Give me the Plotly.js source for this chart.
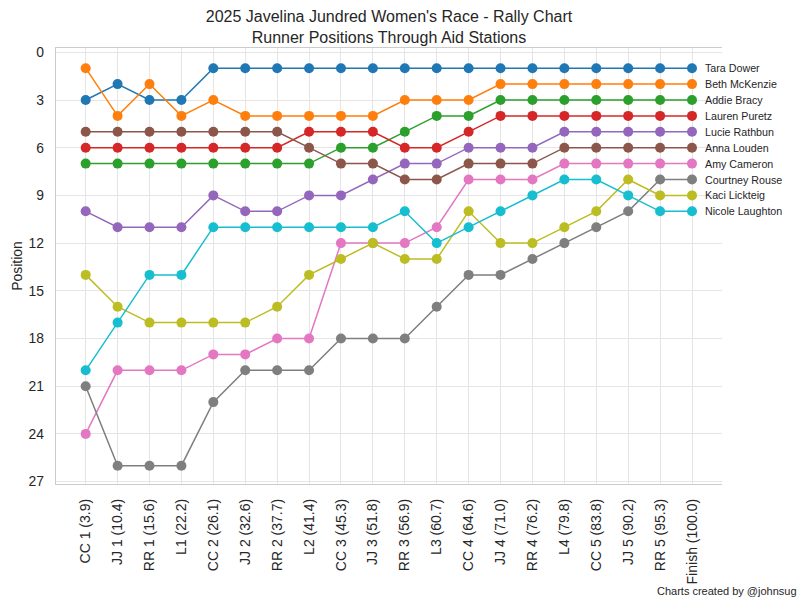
<!DOCTYPE html>
<html><head><meta charset="utf-8">
<script src="https://cdn.plot.ly/plotly-3.0.1.min.js"></script>
<style>html,body{margin:0;padding:0;background:#fff}#chart{width:804px;height:607px}</style>
</head><body><div id="chart"></div>
<script>
const stations = ["CC 1 (3.9)","JJ 1 (10.4)","RR 1 (15.6)","L1 (22.2)","CC 2 (26.1)","JJ 2 (32.6)","RR 2 (37.7)","L2 (41.4)","CC 3 (45.3)","JJ 3 (51.8)","RR 3 (56.9)","L3 (60.7)","CC 4 (64.6)","JJ 4 (71.0)","RR 4 (76.2)","L4 (79.8)","CC 5 (83.8)","JJ 5 (90.2)","RR 5 (95.3)","Finish (100.0)"];

const runners = ["Tara Dower","Beth McKenzie","Addie Bracy","Lauren Puretz","Lucie Rathbun","Anna Louden","Amy Cameron","Courtney Rouse","Kaci Lickteig","Nicole Laughton"];

const taraDower      = [3,2,3,3,1,1,1,1,1,1,1,1,1,1,1,1,1,1,1,1];
const bethMcKenzie   = [1,4,2,4,3,4,4,4,4,4,3,3,3,2,2,2,2,2,2,2];
const addieBracy     = [7,7,7,7,7,7,7,7,6,6,5,4,4,3,3,3,3,3,3,3];
const laurenPuretz   = [6,6,6,6,6,6,6,5,5,5,6,6,5,4,4,4,4,4,4,4];
const lucieRathbun   = [10,11,11,11,9,10,10,9,9,8,7,7,6,6,6,5,5,5,5,5];
const annaLouden     = [5,5,5,5,5,5,5,6,7,7,8,8,7,7,7,6,6,6,6,6];
const amyCameron     = [24,20,20,20,19,19,18,18,12,12,12,11,8,8,8,7,7,7,7,7];
const courtneyRouse  = [21,26,26,26,22,20,20,20,18,18,18,16,14,14,13,12,11,10,8,8];
const kaciLickteig   = [14,16,17,17,17,17,16,14,13,12,13,13,10,12,12,11,10,8,9,9];
const nicoleLaughton = [20,17,14,14,11,11,11,11,11,11,10,12,11,10,9,8,8,9,10,10];

const positions = [taraDower,bethMcKenzie,addieBracy,laurenPuretz,lucieRathbun,annaLouden,amyCameron,courtneyRouse,kaciLickteig,nicoleLaughton];
const colors = ["#1f77b4","#ff7f0e","#2ca02c","#d62728","#9467bd","#8c564b","#e377c2","#7f7f7f","#bcbd22","#17becf"];

const FONT = "Liberation Sans, Arial, sans-serif";
const TXT = "#262626";

const traces = runners.map((name, i) => ({
  type: "scatter",
  mode: "lines+markers",
  name: name,
  x: stations,
  y: positions[i],
  line: {color: colors[i], width: 1.5},
  marker: {color: colors[i], size: 10},
  showlegend: false
}));

const annotations = runners.map((name, i) => ({
  x: stations[stations.length - 1],
  y: positions[i][positions[i].length - 1],
  xref: "x", yref: "y",
  text: name,
  showarrow: false,
  xanchor: "left",
  yanchor: "middle",
  xshift: 11,
  font: {family: FONT, size: 10.7, color: TXT}
}));

annotations.push({
  xref: "paper", yref: "paper",
  x: 1.115, y: -0.245,
  xanchor: "right", yanchor: "middle",
  text: "Charts created by @johnsug",
  showarrow: false,
  font: {family: FONT, size: 11, color: TXT}
});

const layout = {
  width: 804, height: 607,
  margin: {l: 56, r: 82, t: 48, b: 123},
  paper_bgcolor: "#ffffff",
  plot_bgcolor: "#ffffff",
  title: {
    text: "2025 Javelina Jundred Women's Race - Rally Chart<br>Runner Positions Through Aid Stations",
    font: {family: FONT, size: 16, color: TXT},
    x: 0.5, xref: "paper", xanchor: "center",
    y: 0.963, yref: "container", yanchor: "middle"
  },
  xaxis: {
    type: "category",
    range: [-0.93, 19.94],
    tickangle: -90,
    tickfont: {family: FONT, size: 14, color: TXT},
    showgrid: true,
    gridcolor: "#e5e5e5",
    gridwidth: 1,
    showline: true,
    linecolor: "#cccccc",
    linewidth: 1.25,
    mirror: true,
    ticks: "",
    ticklabelstandoff: 8,
    zeroline: false,
    automargin: false
  },
  yaxis: {
    range: [27.15, -0.27],
    tick0: 0, dtick: 3,
    tickfont: {family: FONT, size: 13.9, color: TXT},
    showgrid: true,
    gridcolor: "#e5e5e5",
    gridwidth: 1,
    showline: true,
    linecolor: "#cccccc",
    linewidth: 1.25,
    mirror: false,
    ticks: "",
    ticklabelstandoff: 8,
    zeroline: false,
    automargin: false,
    title: {text: "Position", font: {family: FONT, size: 13.9, color: TXT}, standoff: 2}
  },
  annotations: annotations,
  showlegend: false
};

Plotly.newPlot("chart", traces, layout, {displayModeBar: false, staticPlot: true});
</script>
</body></html>
